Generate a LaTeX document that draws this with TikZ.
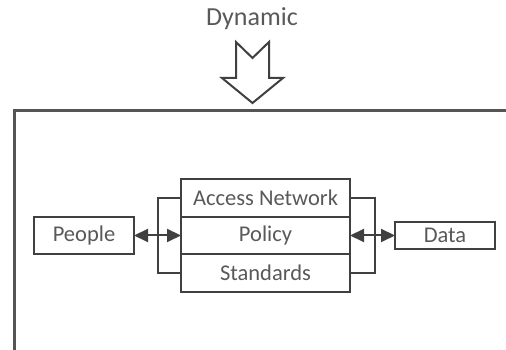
\documentclass[tikz,border=0pt]{standalone}
\usepackage{fontspec}
\setmainfont{Carlito}
\usepackage{tikz}
\usetikzlibrary{arrows.meta,positioning}
\definecolor{LineGray}{RGB}{64,64,64}
\definecolor{TextGray}{RGB}{89,89,89}
\definecolor{FrameGray}{RGB}{85,85,85}

\begin{document}
\begin{tikzpicture}[x=1pt,y=1pt,
        layer/.style={draw=LineGray,line width=2pt,fill=white,text=TextGray,
                      font=\fontsize{22.5}{25}\selectfont,inner sep=0pt,outer sep=0pt,
                      minimum width=169pt,minimum height=37.5pt},
        side/.style={layer,minimum width=100pt},
        link/.style={{Triangle[length=14pt,width=13pt]}-{Triangle[length=14pt,width=13pt]},
                     LineGray,line width=2pt},
        bracket/.style={LineGray,line width=2pt}
      ]
        \clip (0,0) rectangle (506,350);
        % outer frame (runs past the right and bottom edges)
        \draw[FrameGray,line width=3pt] (14,-20) rectangle (540,239);
        % stack
        \node[layer] (P) at (265.5,114.5) {Policy};
        \node[layer,above=0pt of P] (A) {Access Network};
        \node[layer,below=0pt of P] (S) {Standards};
        \node[side,left=47pt of P] (people) {People};
        \node[side,minimum height=27pt,right=45pt of P] (data) {Data};
        \draw[bracket] (A.west) -- ++(-23,0) |- (S.west);
        \draw[bracket] (A.east) -- ++(25,0) |- (S.east);
        \draw[link] (people.east) -- (P.west);
        \draw[link] (P.east) -- (data.west);
        % dynamic input
        \node[text=TextGray,font=\fontsize{26}{28}\selectfont,anchor=base] (dyn) at (252,324) {Dynamic};
        \coordinate (tip) at (252.5,247);
        \draw[LineGray,line width=2pt] (tip) -- ++(30.5,25) -- ++(-14,0) -- ++(0,36)
            -- ++(-16.5,-16) -- ++(-16.5,16) -- ++(0,-36) -- ++(-14,0) -- cycle;
      \end{tikzpicture}
\end{document}
